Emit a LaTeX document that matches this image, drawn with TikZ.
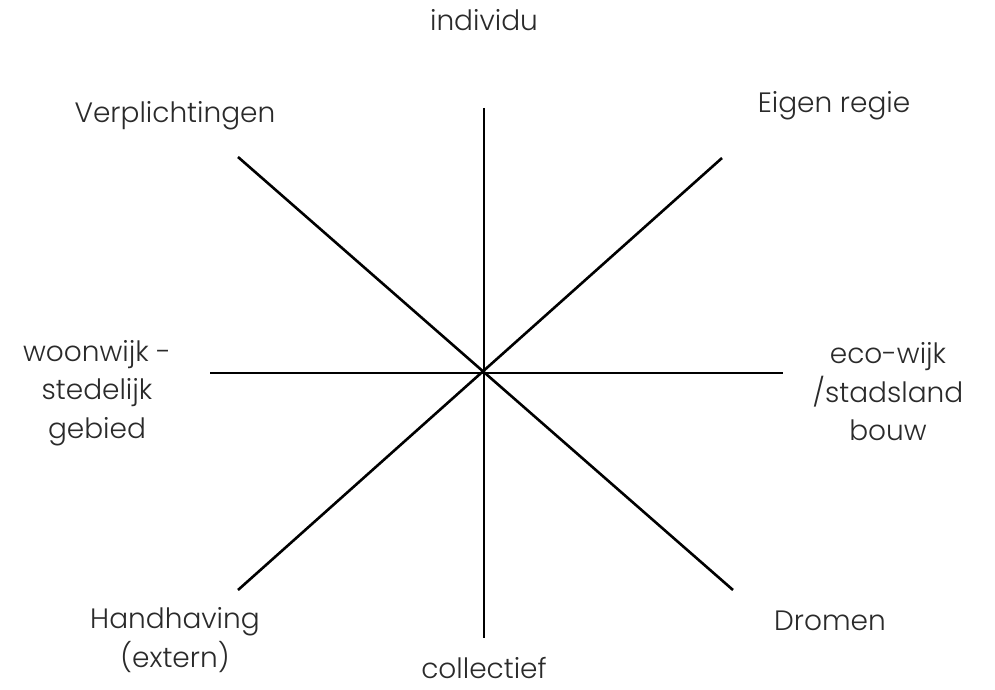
\documentclass[tikz,border=0pt]{standalone}
\usepackage{fontspec}
\setmainfont{Poppins Light}
\definecolor{txt}{HTML}{2A2A2A}
\begin{document}
\begin{tikzpicture}[x=1pt,y=-1pt,
  axis/.style={line width=2.6pt,black},
  lbl/.style={text=txt,font=\fontsize{28}{38.5}\selectfont,align=center,inner sep=0pt}]
\useasboundingbox (0,0) rectangle (995,690);
\coordinate (c) at (484,373);
\coordinate (top) at (484,108);
\coordinate (bot) at (484,638);
\coordinate (lft) at (210,373);
\coordinate (rgt) at (783,373);
\coordinate (tl) at (238,157);
\coordinate (br) at (733,590);
\coordinate (tr) at (722,158);
\coordinate (bl) at (238,590);
\draw[axis] (top) -- (bot);
\draw[axis] (lft) -- (rgt);
\draw[axis] (tl) -- (br);
\draw[axis] (tr) -- (bl);
\node[lbl] (individu) at (484,20) {individu};
\node[lbl] (verpl) at (175,116) {Verplichtingen};
\node[lbl] (eigen) at (834,106) {Eigen regie};
\node[lbl] (woon) at (97,393) {woonwijk -\\stedelijk\\gebied};
\node[lbl] (eco) at (888,392) {eco-wijk\\/stadsland\\bouw};
\node[lbl] (handh) at (175,640) {Handhaving\\(extern)};
\node[lbl] (dromen) at (830,621) {Dromen};
\node[lbl] (coll) at (484,668) {collectief};
\end{tikzpicture}
\end{document}
